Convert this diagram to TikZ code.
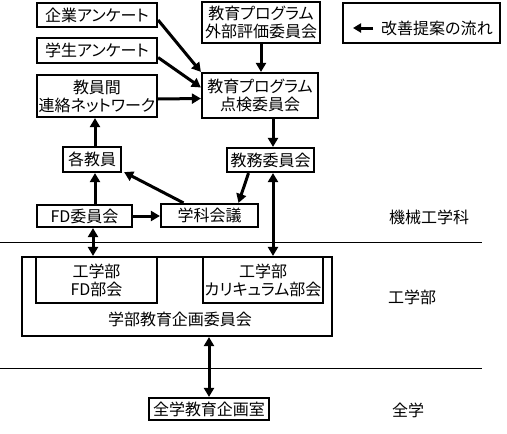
\documentclass[tikz,border=0pt]{standalone}
\usepackage{fontspec}
\newfontfamily\jp{Noto Sans CJK JP}[RawFeature=+palt]
\usetikzlibrary{arrows.meta}
\tikzset{
  jpf/.style={font=\jp\fontsize{16}{18}\selectfont},
  box/.style={draw, line width=2.2pt, inner sep=0pt, jpf, align=center},
  lbl/.style={inner sep=0pt, jpf},
  arr/.style={line width=3pt, -{Triangle[length=9pt,width=10pt]}},
  darr/.style={line width=3pt, {Triangle[length=9pt,width=10pt]}-{Triangle[length=9pt,width=10pt]}},
  sep/.style={line width=0.9pt},
}
\begin{document}
\begin{tikzpicture}[x=1pt,y=-1pt]
\fill[white] (0,0) rectangle (507,434);
\useasboundingbox (0,0) rectangle (507,434);
% boxes
\node[box, minimum width=120pt, minimum height=24pt] (kigyo) at (97,15) {企業アンケート};
\node[box, minimum width=120pt, minimum height=25pt] (gakusei) at (97,50.5) {学生アンケート};
\node[box, minimum width=120pt, minimum height=42pt] (net) at (97,96) {教員間\\連絡ネットワーク};
\node[box, minimum width=118pt, minimum height=41pt] (gaibu) at (261,22.5) {教育プログラム\\外部評価委員会};
\node[box, minimum width=116pt, minimum height=45pt] (tenken) at (260,95.5) {教育プログラム\\点検委員会};
\node[box, minimum width=157pt, minimum height=40pt] (legend) at (421.5,23) {};
\node[box, minimum width=58pt, minimum height=25pt] (kaku) at (92,159.5) {各教員};
\node[box, minimum width=87pt, minimum height=24pt] (kyomu) at (270.5,160) {教務委員会};
\node[box, minimum width=95pt, minimum height=22pt] (fd) at (84.5,216) {FD委員会};
\node[box, minimum width=97pt, minimum height=23pt] (gakka) at (209.5,215.5) {学科会議};
\node[box, minimum width=310pt, minimum height=79pt] (outer) at (177,296.5) {};
\node[box, minimum width=121pt, minimum height=46pt] (fdbu) at (96.5,280) {工学部\\FD部会};
\node[box, minimum width=120pt, minimum height=46pt] (curri) at (263,280) {工学部\\カリキュラム部会};
\node[lbl] (outerlbl) at (180,319) {学部教育企画委員会};
\node[box, minimum width=120pt, minimum height=22pt] (zen) at (209,409) {全学教育企画室};
% legend content
\coordinate (lga) at (373,28);
\coordinate (lgb) at (353,28);
\draw[line width=3pt, -{Triangle[length=8pt,width=9pt]}] (lga) -- (lgb);
\node[lbl, anchor=west] (lgtxt) at (381,28) {改善提案の流れ};
% side labels
\node[lbl] (kikai) at (429,217) {機械工学科};
\node[lbl] (kogaku) at (412,297) {工学部};
\node[lbl] (zengaku) at (408,410) {全学};
% separators
\coordinate (s1a) at (0,242); \coordinate (s1b) at (482,242);
\coordinate (s2a) at (0,368); \coordinate (s2b) at (482,368);
\draw[sep] (s1a) -- (s1b);
\draw[sep] (s2a) -- (s2b);
% x guides
\coordinate (x95) at (95,0);
\coordinate (x93) at (93,0);
\coordinate (x273) at (273,0);
\coordinate (x261) at (261,0);
\coordinate (x209) at (209,0);
% arrows
\draw[arr] ([yshift=-5pt]kigyo.east) -- (tenken.north west);
\draw[arr] ([yshift=-7pt]gakusei.east) -- ([yshift=8pt]tenken.west);
\draw[arr] ([yshift=-3pt]net.east) -- ([yshift=-3pt]tenken.west);
\draw[arr] (gaibu.south -| x261) -- (tenken.north -| x261);
\draw[arr] (tenken.south -| x273) -- (kyomu.north -| x273);
\draw[arr] (kaku.north -| x95) -- (net.south -| x95);
\draw[arr] (fd.north -| x95) -- (kaku.south -| x95);
\draw[arr] ([xshift=-26pt]gakka.north) -- ([xshift=2pt,yshift=1pt]kaku.south east);
\draw[arr] ([xshift=-22pt]kyomu.south) -- ([xshift=29pt]gakka.north);
\draw[arr] (fd.east) -- (fd.east -| gakka.west);
\draw[darr] (kyomu.south -| x273) -- (curri.north -| x273);
\draw[darr] (fd.south -| x93) -- (fdbu.north -| x93);
\draw[darr] (outer.south -| x209) -- (zen.north -| x209);
\end{tikzpicture}
\end{document}
